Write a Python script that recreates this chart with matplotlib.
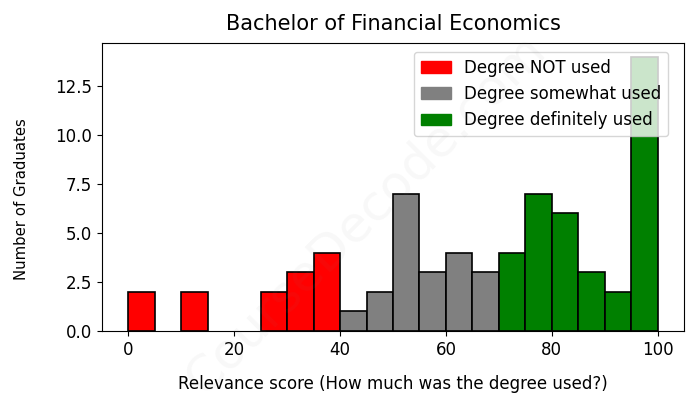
import matplotlib
matplotlib.use("Agg")
import matplotlib.pyplot as plt
import numpy as np
from matplotlib.patches import Patch

bin_left = [0, 5, 10, 15, 20, 25, 30, 35, 40, 45, 50, 55, 60, 65, 70, 75, 80, 85, 90, 95]
counts = [2, 0, 2, 0, 0, 2, 3, 4, 1, 2, 7, 3, 4, 3, 4, 7, 6, 3, 2, 14]
categories = ["Degree NOT used", "Degree somewhat used", "Degree definitely used"]
cat_colors = ["red", "gray", "green"]
cat_bounds = [40, 70]

def cat_of(x):
    if x < cat_bounds[0]:
        return 0
    if x < cat_bounds[1]:
        return 1
    return 2

fig = plt.figure(figsize=(6.98, 4.08), dpi=100)
ax = fig.add_axes([102/698, 1-331/408, (684-102)/698, (331-43)/408])

for x, c in zip(bin_left, counts):
    if c > 0:
        ax.bar(x, c, width=5, align="edge", color=cat_colors[cat_of(x)],
               edgecolor="black", linewidth=1.2)

ax.set_xlim(-5, 105)
ax.set_ylim(0, 14.7)
ax.set_yticks([0, 2.5, 5, 7.5, 10, 12.5])
ax.tick_params(labelsize=12)
ax.set_title("Bachelor of Financial Economics", fontsize=15, pad=9)
ax.set_xlabel("Relevance score (How much was the degree used?)", fontsize=12, labelpad=12)
ax.set_ylabel("Number of Graduates", fontsize=10.7)
ax.yaxis.set_label_coords(-0.125, 0.458)

handles = [Patch(color=col, label=lab) for col, lab in zip(cat_colors, categories)]
ax.legend(handles=handles, loc="upper right", framealpha=0.8, fontsize=12,
          bbox_to_anchor=(0.9725, 0.969), borderaxespad=0, handlelength=1.8)

fig.text(0.523, 0.475, "CourseDecode.com", fontsize=36, color="gray", alpha=0.06,
         rotation=45, ha="center", va="center")

fig.savefig("out.png", dpi=100)
